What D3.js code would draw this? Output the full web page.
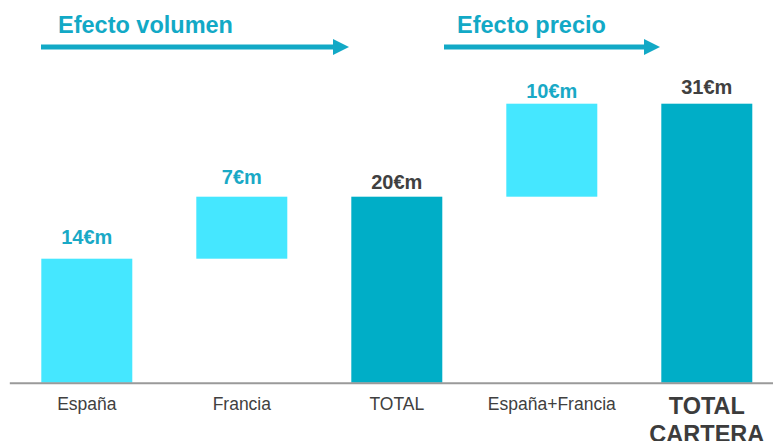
<!DOCTYPE html>
<html>
<head>
<meta charset="utf-8">
<script src="https://cdn.jsdelivr.net/npm/d3@7"></script>
<style>
  html, body { margin: 0; padding: 0; background: #ffffff; }
  svg { display: block; font-family: "Liberation Sans", Arial, sans-serif; }
</style>
</head>
<body>
<svg id="chart" width="773" height="441"></svg>
<script>
// Waterfall: volume effect by country, then price effect, up to the portfolio total
const categories = ["España", "Francia", "TOTAL", "España+Francia", "TOTAL CARTERA"];
const kinds = ["step", "step", "total", "step", "total"];
const stepValues = [13.6, 6.8, null, 10.2, null];   // €m; totals are running sums
const unitSuffix = "€m";
const groupTitles = ["Efecto volumen", "Efecto precio"];

// Layout
const W = 773, H = 441;
const baseY = 382.7, topY = 103.7;
const labelGap = [15, 12.7, 7.5, 6, 9.5];
const colors = { step: "#45E7FF", total: "#00AEC7", stepText: "#19A9C6", totalText: "#404040", arrow: "#12A9C6", axis: "#9a9a9a" };

// Build bar extents from running sum
let running = 0;
const bars = categories.map((c, i) => {
  if (kinds[i] === "step") {
    const b = { cat: c, kind: "step", y0: running, y1: running + stepValues[i], value: stepValues[i] };
    running += stepValues[i];
    return b;
  }
  return { cat: c, kind: "total", y0: 0, y1: running, value: running };
});

const svg = d3.select("#chart");

const x = d3.scaleBand()
  .domain(categories)
  .range([9.3, 784.3])
  .paddingInner(0.413)
  .paddingOuter(0.2065);

const y = d3.scaleLinear()
  .domain([0, d3.max(bars, d => d.y1)])
  .range([baseY, topY]);

// Bars
svg.append("g").selectAll("rect")
  .data(bars)
  .join("rect")
  .attr("x", d => x(d.cat))
  .attr("width", x.bandwidth())
  .attr("y", d => y(d.y1))
  .attr("height", d => y(d.y0) - y(d.y1))
  .attr("fill", d => colors[d.kind]);

// Value labels
const fmt = d3.format(".0f");
svg.append("g").selectAll("text")
  .data(bars)
  .join("text")
  .attr("x", d => x(d.cat) + x.bandwidth() / 2)
  .attr("y", (d, i) => y(d.y1) - labelGap[i])
  .attr("text-anchor", "middle")
  .attr("font-size", 20)
  .attr("font-weight", "bold")
  .attr("fill", d => d.kind === "step" ? colors.stepText : colors.totalText)
  .text(d => fmt(d.value) + unitSuffix);

// Category axis
const axis = svg.append("g")
  .attr("transform", `translate(0,${baseY})`)
  .call(d3.axisBottom(x).tickSize(0).tickPadding(15));
axis.select(".domain").attr("stroke", colors.axis).attr("stroke-width", 2);
axis.selectAll(".tick text")
  .attr("font-family", "Liberation Sans, Arial, sans-serif")
  .attr("font-size", 17.5)
  .attr("fill", "#404040");

// Last category: bold, split over two lines
axis.selectAll(".tick text")
  .filter(d => d === categories[categories.length - 1])
  .attr("font-size", 23.5)
  .attr("font-weight", "bold")
  .attr("fill", "#3c3c3c")
  .each(function(d) {
    const t = d3.select(this);
    const words = d.split(" ");
    t.text(null);
    words.forEach((w, i) => {
      t.append("tspan")
        .attr("x", 0)
        .attr("dy", i === 0 ? "0.71em" : 27.5)
        .text(w);
    });
  });

// Group titles with arrows
const groups = [
  { title: groupTitles[0], textX: 58, arrowFrom: 41, arrowTo: 349 },
  { title: groupTitles[1], textX: 457, arrowFrom: 444, arrowTo: 660 }
];
const arrowY = 47;
groups.forEach(g => {
  svg.append("text")
    .attr("x", g.textX)
    .attr("y", 33)
    .attr("font-size", 23.5)
    .attr("font-weight", "bold")
    .attr("fill", colors.arrow)
    .text(g.title);
  svg.append("line")
    .attr("x1", g.arrowFrom).attr("x2", g.arrowTo - 14)
    .attr("y1", arrowY).attr("y2", arrowY)
    .attr("stroke", colors.arrow)
    .attr("stroke-width", 5);
  svg.append("path")
    .attr("d", `M${g.arrowTo - 16},${arrowY - 8}L${g.arrowTo},${arrowY}L${g.arrowTo - 16},${arrowY + 8}Z`)
    .attr("fill", colors.arrow);
});
</script>
</body>
</html>
